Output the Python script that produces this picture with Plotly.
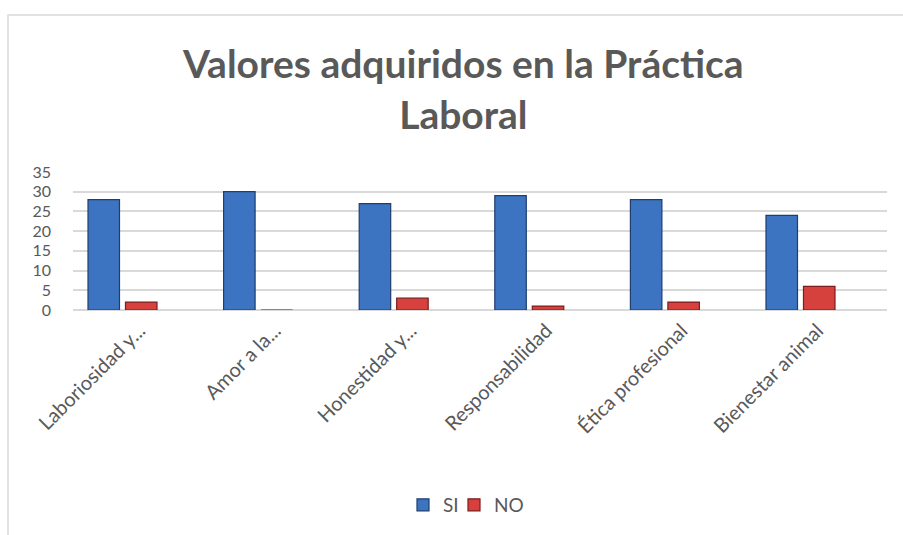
import plotly.graph_objects as go

categories = ["Laboriosidad y...", "Amor a la...", "Honestidad y...", "Responsabilidad", "Ética profesional", "Bienestar animal"]
si_values = [28, 30, 27, 29, 28, 24]
no_values = [2, 0, 3, 1, 2, 6]
y_ticks = [0, 5, 10, 15, 20, 25, 30, 35]
title_text = "<b>Valores adquiridos en la Práctica<br>Laboral</b>"

W, H = 903, 535
L, R, T, B = 73, 16, 172, 225
pw, ph = W - L - R, H - T - B

def px_x(x):
    return (x - L) / pw

def px_y(y):
    return (H - B - y) / ph

font = "Lato, 'Open Sans', sans-serif"
fig = go.Figure()
fig.add_trace(go.Bar(name="SI", x=categories, y=si_values, legend="legend",
                     marker=dict(color="#3C74C2", line=dict(color="#1E3E6E", width=1.2))))
fig.add_trace(go.Bar(name="NO", x=categories, y=no_values, legend="legend2",
                     marker=dict(color="#D6413D", line=dict(color="#7E1B1B", width=1.2))))

legend_common = dict(orientation="h", xanchor="left", y=px_y(505), yanchor="middle",
                     font=dict(family=font, size=19, color="#595959"), itemwidth=30,
                     bgcolor="rgba(0,0,0,0)")

fig.update_layout(
    width=W, height=H,
    margin=dict(l=L, r=R, t=T, b=B, autoexpand=False),
    paper_bgcolor="white", plot_bgcolor="white",
    barmode="group", bargap=0.447, bargroupgap=0.16,
    font=dict(family=font, color="#595959"),
    showlegend=True,
    legend=dict(x=px_x(403), **legend_common),
    legend2=dict(x=px_x(454), **legend_common),
    xaxis=dict(range=[-0.365, 5.638], tickangle=-45, showgrid=False, showline=False,
               zeroline=False, ticks="", tickfont=dict(family=font, size=20, color="#595959"),
               ticklabelshift=17, ticklabelstandoff=4),
    yaxis=dict(range=[0, 35], tickvals=y_ticks, showgrid=True, gridcolor="#D9D9D9", gridwidth=1.5,
               zeroline=True, zerolinecolor="#D9D9D9", zerolinewidth=1.5, showline=False,
               ticks="", ticklabelstandoff=21,
               tickfont=dict(family=font, size=16, color="#595959")),
    annotations=[dict(text=title_text, xref="paper", yref="paper", x=px_x(463), xanchor="center",
                      y=px_y(38), yanchor="top", showarrow=False,
                      font=dict(family=font, size=39, color="#595959"))],
    shapes=[dict(type="rect", xref="paper", yref="paper",
                 x0=px_x(8), x1=px_x(950), y0=px_y(600), y1=px_y(15),
                 line=dict(color="#D9D9D9", width=1.5), fillcolor="rgba(0,0,0,0)", layer="below")],
)

fig.write_html("out.html", config={"displayModeBar": False},
               post_script="document.body.style.margin='0px';")
